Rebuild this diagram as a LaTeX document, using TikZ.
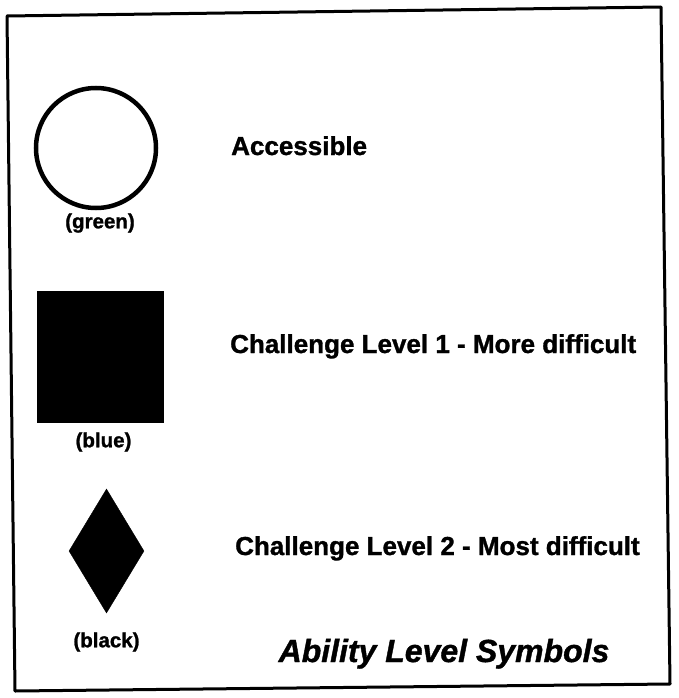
\documentclass[tikz,border=0pt]{standalone}
\usepackage{fontspec}
\setmainfont{Liberation Sans}[BoldFeatures={FakeBold=1.2}, BoldItalicFeatures={FakeBold=1.2}]
\usetikzlibrary{shapes.geometric,positioning}
\tikzset{
  symb/.style={draw=black, fill=black, inner sep=0pt},
  lbl/.style={anchor=base west, inner sep=0pt, font=\bfseries\fontsize{26}{31}\selectfont},
  captxt/.style={inner sep=0pt, font=\bfseries\fontsize{20.5}{24}\selectfont},
}
\begin{document}
\begin{tikzpicture}[x=1pt, y=-1pt,
    frame/.style={draw=black, line width=3pt, line join=round}
  ]
    \useasboundingbox (0,0) rectangle (678,698);
    \draw[frame] (7,16) -- (661,7) -- (670,684) -- (15,691) -- cycle;
    \node[circle, draw=black, line width=4.5pt, minimum size=120pt, inner sep=0pt] (acc) at (96,148) {};
    \node[captxt, below=3pt of acc, xshift=4pt] (green) {(green)};
    \node[symb, rectangle, minimum width=126pt, minimum height=131pt] (lvl1) at (100,356.5) {};
    \node[captxt, below=10pt of lvl1, xshift=3.5pt] (blue) {(blue)};
    \node[symb, diamond, minimum width=75pt, minimum height=124pt] (lvl2) at (106.5,551) {};
    \node[captxt, below=19pt of lvl2] (black) {(black)};
    \node[lbl] (accl) at (231,155) {Accessible};
    \node[lbl] (lvl1l) at (230,353) {Challenge Level 1 - More difficult};
    \node[lbl] (lvl2l) at (235,555) {Challenge Level 2 - Most difficult};
    \node[anchor=base, inner sep=0pt, font=\bfseries\itshape\fontsize{32}{38}\selectfont] (title) at (444,662) {Ability Level Symbols};
  \end{tikzpicture}
\end{document}
